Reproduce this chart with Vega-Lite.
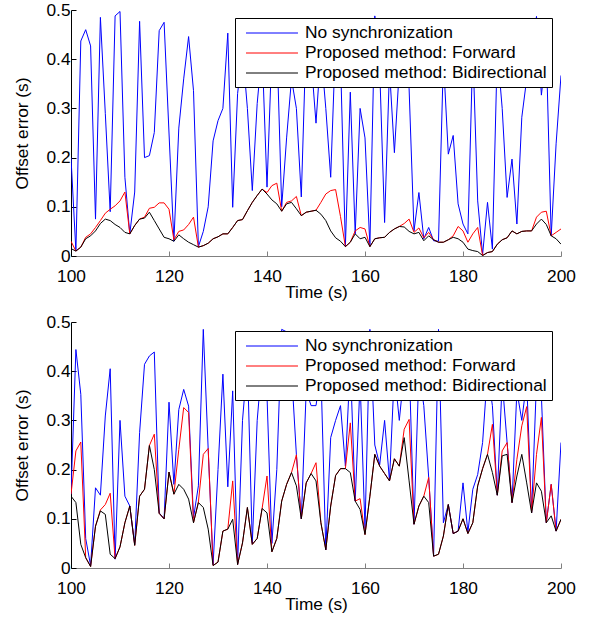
{
  "$schema": "https://vega.github.io/schema/vega-lite/v6.json",
  "padding": {"left": 13, "top": 1, "right": 5, "bottom": 0},
  "background": "white",
  "config": {
    "font": "Liberation Sans",
    "view": {"stroke": null},
    "axis": {
      "labelFont": "Liberation Sans", "labelFontSize": 17.3, "labelColor": "#000",
      "titleFont": "Liberation Sans", "titleFontSize": 17.3, "titleFontWeight": "normal", "titleColor": "#000",
      "tickColor": "#000", "domainColor": "#000", "tickSize": -5, "grid": false,
      "labelFlush": false, "labelOverlap": false
    },
    "axisX": {"domainColor": "#808080", "tickColor": "#808080", "labelPadding": 16, "titlePadding": -1},
    "axisY": {"labelPadding": 6, "titlePadding": 14},
    "legend": {
      "labelFont": "Liberation Sans", "labelFontSize": 17.4, "labelColor": "#000", "labelLimit": 0,
      "strokeColor": "#000", "fillColor": "white", "padding": 5, "rowPadding": 1,
      "symbolType": "M-0.42,0L5.05,0", "symbolSize": 361, "symbolStrokeWidth": 1, "labelOffset": 45
    }
  },
  "datasets": {
    "top": [
      {"t":100,"none":0.2,"fwd":0.03,"bi":0.015},
      {"t":101,"none":0.01,"fwd":0.01,"bi":0.01},
      {"t":102,"none":0.437,"fwd":0.018,"bi":0.018},
      {"t":103,"none":0.46,"fwd":0.038,"bi":0.035},
      {"t":104,"none":0.427,"fwd":0.045,"bi":0.041},
      {"t":105,"none":0.075,"fwd":0.058,"bi":0.051},
      {"t":106,"none":0.485,"fwd":0.072,"bi":0.066},
      {"t":107,"none":0.29,"fwd":0.087,"bi":0.075},
      {"t":108,"none":0.09,"fwd":0.095,"bi":0.072},
      {"t":109,"none":0.488,"fwd":0.102,"bi":0.064},
      {"t":110,"none":0.497,"fwd":0.112,"bi":0.058},
      {"t":111,"none":0.16,"fwd":0.13,"bi":0.048},
      {"t":112,"none":0.045,"fwd":0.045,"bi":0.045},
      {"t":113,"none":0.13,"fwd":0.062,"bi":0.062},
      {"t":114,"none":0.477,"fwd":0.075,"bi":0.075},
      {"t":115,"none":0.2,"fwd":0.079,"bi":0.077},
      {"t":116,"none":0.204,"fwd":0.097,"bi":0.089},
      {"t":117,"none":0.251,"fwd":0.099,"bi":0.072},
      {"t":118,"none":0.458,"fwd":0.108,"bi":0.055},
      {"t":119,"none":0.475,"fwd":0.108,"bi":0.038},
      {"t":120,"none":0.25,"fwd":0.095,"bi":0.035},
      {"t":121,"none":0.03,"fwd":0.033,"bi":0.03},
      {"t":122,"none":0.26,"fwd":0.05,"bi":0.043},
      {"t":123,"none":0.36,"fwd":0.053,"bi":0.035},
      {"t":124,"none":0.446,"fwd":0.064,"bi":0.028},
      {"t":125,"none":0.336,"fwd":0.079,"bi":0.023},
      {"t":126,"none":0.019,"fwd":0.018,"bi":0.018},
      {"t":127,"none":0.05,"fwd":0.021,"bi":0.021},
      {"t":128,"none":0.1,"fwd":0.026,"bi":0.026},
      {"t":129,"none":0.234,"fwd":0.035,"bi":0.035},
      {"t":130,"none":0.275,"fwd":0.039,"bi":0.039},
      {"t":131,"none":0.3,"fwd":0.045,"bi":0.045},
      {"t":132,"none":0.453,"fwd":0.045,"bi":0.045},
      {"t":133,"none":0.099,"fwd":0.058,"bi":0.058},
      {"t":134,"none":0.33,"fwd":0.072,"bi":0.072},
      {"t":135,"none":0.42,"fwd":0.074,"bi":0.074},
      {"t":136,"none":0.3,"fwd":0.092,"bi":0.092},
      {"t":137,"none":0.133,"fwd":0.109,"bi":0.109},
      {"t":138,"none":0.31,"fwd":0.123,"bi":0.123},
      {"t":139,"none":0.42,"fwd":0.136,"bi":0.136},
      {"t":140,"none":0.14,"fwd":0.129,"bi":0.126},
      {"t":141,"none":0.42,"fwd":0.143,"bi":0.114},
      {"t":142,"none":0.44,"fwd":0.148,"bi":0.106},
      {"t":143,"none":0.1,"fwd":0.091,"bi":0.091},
      {"t":144,"none":0.24,"fwd":0.109,"bi":0.106},
      {"t":145,"none":0.36,"fwd":0.112,"bi":0.109},
      {"t":146,"none":0.3,"fwd":0.121,"bi":0.096},
      {"t":147,"none":0.12,"fwd":0.082,"bi":0.082},
      {"t":148,"none":0.45,"fwd":0.089,"bi":0.089},
      {"t":149,"none":0.4,"fwd":0.091,"bi":0.091},
      {"t":150,"none":0.27,"fwd":0.093,"bi":0.093},
      {"t":151,"none":0.42,"fwd":0.109,"bi":0.085},
      {"t":152,"none":0.3,"fwd":0.126,"bi":0.072},
      {"t":153,"none":0.16,"fwd":0.133,"bi":0.051},
      {"t":154,"none":0.44,"fwd":0.135,"bi":0.037},
      {"t":155,"none":0.4,"fwd":0.08,"bi":0.03},
      {"t":156,"none":0.02,"fwd":0.019,"bi":0.019},
      {"t":157,"none":0.333,"fwd":0.028,"bi":0.028},
      {"t":158,"none":0.045,"fwd":0.051,"bi":0.045},
      {"t":159,"none":0.3,"fwd":0.058,"bi":0.035},
      {"t":160,"none":0.24,"fwd":0.055,"bi":0.038},
      {"t":161,"none":0.02,"fwd":0.019,"bi":0.019},
      {"t":162,"none":0.488,"fwd":0.035,"bi":0.035},
      {"t":163,"none":0.38,"fwd":0.037,"bi":0.037},
      {"t":164,"none":0.068,"fwd":0.038,"bi":0.038},
      {"t":165,"none":0.38,"fwd":0.048,"bi":0.048},
      {"t":166,"none":0.21,"fwd":0.055,"bi":0.055},
      {"t":167,"none":0.38,"fwd":0.06,"bi":0.06},
      {"t":168,"none":0.42,"fwd":0.066,"bi":0.059},
      {"t":169,"none":0.34,"fwd":0.075,"bi":0.05},
      {"t":170,"none":0.051,"fwd":0.048,"bi":0.045},
      {"t":171,"none":0.129,"fwd":0.057,"bi":0.048},
      {"t":172,"none":0.035,"fwd":0.037,"bi":0.031},
      {"t":173,"none":0.058,"fwd":0.048,"bi":0.041},
      {"t":174,"none":0.031,"fwd":0.033,"bi":0.033},
      {"t":175,"none":0.03,"fwd":0.028,"bi":0.028},
      {"t":176,"none":0.4,"fwd":0.028,"bi":0.028},
      {"t":177,"none":0.207,"fwd":0.033,"bi":0.033},
      {"t":178,"none":0.245,"fwd":0.041,"bi":0.038},
      {"t":179,"none":0.106,"fwd":0.06,"bi":0.035},
      {"t":180,"none":0.065,"fwd":0.051,"bi":0.028},
      {"t":181,"none":0.045,"fwd":0.028,"bi":0.014},
      {"t":182,"none":0.42,"fwd":0.045,"bi":0.011},
      {"t":183,"none":0.112,"fwd":0.058,"bi":0.009},
      {"t":184,"none":0.003,"fwd":0.001,"bi":0.001},
      {"t":185,"none":0.109,"fwd":0.007,"bi":0.007},
      {"t":186,"none":0.014,"fwd":0.009,"bi":0.009},
      {"t":187,"none":0.42,"fwd":0.024,"bi":0.024},
      {"t":188,"none":0.3,"fwd":0.033,"bi":0.033},
      {"t":189,"none":0.119,"fwd":0.037,"bi":0.037},
      {"t":190,"none":0.197,"fwd":0.051,"bi":0.051},
      {"t":191,"none":0.065,"fwd":0.045,"bi":0.045},
      {"t":192,"none":0.282,"fwd":0.05,"bi":0.05},
      {"t":193,"none":0.36,"fwd":0.051,"bi":0.051},
      {"t":194,"none":0.42,"fwd":0.051,"bi":0.051},
      {"t":195,"none":0.487,"fwd":0.079,"bi":0.065},
      {"t":196,"none":0.327,"fwd":0.089,"bi":0.075},
      {"t":197,"none":0.42,"fwd":0.091,"bi":0.064},
      {"t":198,"none":0.041,"fwd":0.041,"bi":0.041},
      {"t":199,"none":0.228,"fwd":0.048,"bi":0.035},
      {"t":200,"none":0.367,"fwd":0.055,"bi":0.024}
    ],
    "bottom": [
      {"t":100,"none":0.15,"fwd":0.15,"bi":0.146},
      {"t":101,"none":0.444,"fwd":0.238,"bi":0.133},
      {"t":102,"none":0.353,"fwd":0.256,"bi":0.048},
      {"t":103,"none":0.06,"fwd":0.021,"bi":0.021},
      {"t":104,"none":0.005,"fwd":0.003,"bi":0.003},
      {"t":105,"none":0.163,"fwd":0.085,"bi":0.085},
      {"t":106,"none":0.148,"fwd":0.118,"bi":0.116},
      {"t":107,"none":0.309,"fwd":0.129,"bi":0.109},
      {"t":108,"none":0.405,"fwd":0.152,"bi":0.028},
      {"t":109,"none":0.018,"fwd":0.019,"bi":0.019},
      {"t":110,"none":0.3,"fwd":0.043,"bi":0.043},
      {"t":111,"none":0.146,"fwd":0.092,"bi":0.092},
      {"t":112,"none":0.126,"fwd":0.126,"bi":0.126},
      {"t":113,"none":0.048,"fwd":0.046,"bi":0.046},
      {"t":114,"none":0.275,"fwd":0.146,"bi":0.146},
      {"t":115,"none":0.414,"fwd":0.16,"bi":0.16},
      {"t":116,"none":0.431,"fwd":0.249,"bi":0.249},
      {"t":117,"none":0.439,"fwd":0.272,"bi":0.2},
      {"t":118,"none":0.112,"fwd":0.111,"bi":0.111},
      {"t":119,"none":0.1,"fwd":0.1,"bi":0.1},
      {"t":120,"none":0.337,"fwd":0.195,"bi":0.195},
      {"t":121,"none":0.17,"fwd":0.15,"bi":0.15},
      {"t":122,"none":0.322,"fwd":0.241,"bi":0.17},
      {"t":123,"none":0.363,"fwd":0.326,"bi":0.16},
      {"t":124,"none":0.329,"fwd":0.316,"bi":0.14},
      {"t":125,"none":0.102,"fwd":0.092,"bi":0.092},
      {"t":126,"none":0.167,"fwd":0.134,"bi":0.133},
      {"t":127,"none":0.485,"fwd":0.231,"bi":0.123},
      {"t":128,"none":0.241,"fwd":0.243,"bi":0.079},
      {"t":129,"none":0.007,"fwd":0.005,"bi":0.005},
      {"t":130,"none":0.2,"fwd":0.012,"bi":0.012},
      {"t":131,"none":0.394,"fwd":0.075,"bi":0.075},
      {"t":132,"none":0.165,"fwd":0.079,"bi":0.079},
      {"t":133,"none":0.36,"fwd":0.177,"bi":0.099},
      {"t":134,"none":0.007,"fwd":0.007,"bi":0.007},
      {"t":135,"none":0.3,"fwd":0.051,"bi":0.051},
      {"t":136,"none":0.42,"fwd":0.123,"bi":0.123},
      {"t":137,"none":0.05,"fwd":0.048,"bi":0.048},
      {"t":138,"none":0.3,"fwd":0.06,"bi":0.06},
      {"t":139,"none":0.42,"fwd":0.121,"bi":0.121},
      {"t":140,"none":0.35,"fwd":0.187,"bi":0.112},
      {"t":141,"none":0.05,"fwd":0.033,"bi":0.033},
      {"t":142,"none":0.2,"fwd":0.06,"bi":0.06},
      {"t":143,"none":0.485,"fwd":0.136,"bi":0.136},
      {"t":144,"none":0.48,"fwd":0.17,"bi":0.17},
      {"t":145,"none":0.4,"fwd":0.194,"bi":0.194},
      {"t":146,"none":0.23,"fwd":0.23,"bi":0.167},
      {"t":147,"none":0.1,"fwd":0.1,"bi":0.1},
      {"t":148,"none":0.36,"fwd":0.173,"bi":0.173},
      {"t":149,"none":0.33,"fwd":0.192,"bi":0.192},
      {"t":150,"none":0.33,"fwd":0.214,"bi":0.177},
      {"t":151,"none":0.4,"fwd":0.092,"bi":0.092},
      {"t":152,"none":0.037,"fwd":0.037,"bi":0.037},
      {"t":153,"none":0.265,"fwd":0.126,"bi":0.126},
      {"t":154,"none":0.3,"fwd":0.188,"bi":0.188},
      {"t":155,"none":0.33,"fwd":0.202,"bi":0.202},
      {"t":156,"none":0.207,"fwd":0.202,"bi":0.202},
      {"t":157,"none":0.42,"fwd":0.295,"bi":0.194},
      {"t":158,"none":0.136,"fwd":0.136,"bi":0.136},
      {"t":159,"none":0.38,"fwd":0.141,"bi":0.119},
      {"t":160,"none":0.08,"fwd":0.068,"bi":0.068},
      {"t":161,"none":0.485,"fwd":0.146,"bi":0.146},
      {"t":162,"none":0.25,"fwd":0.231,"bi":0.231},
      {"t":163,"none":0.21,"fwd":0.207,"bi":0.207},
      {"t":164,"none":0.3,"fwd":0.192,"bi":0.192},
      {"t":165,"none":0.177,"fwd":0.177,"bi":0.177},
      {"t":166,"none":0.4,"fwd":0.222,"bi":0.222},
      {"t":167,"none":0.3,"fwd":0.207,"bi":0.207},
      {"t":168,"none":0.4,"fwd":0.282,"bi":0.265},
      {"t":169,"none":0.42,"fwd":0.302,"bi":0.177},
      {"t":170,"none":0.089,"fwd":0.089,"bi":0.089},
      {"t":171,"none":0.4,"fwd":0.126,"bi":0.126},
      {"t":172,"none":0.33,"fwd":0.146,"bi":0.146},
      {"t":173,"none":0.184,"fwd":0.184,"bi":0.133},
      {"t":174,"none":0.024,"fwd":0.024,"bi":0.024},
      {"t":175,"none":0.485,"fwd":0.028,"bi":0.028},
      {"t":176,"none":0.092,"fwd":0.065,"bi":0.065},
      {"t":177,"none":0.129,"fwd":0.129,"bi":0.129},
      {"t":178,"none":0.07,"fwd":0.07,"bi":0.07},
      {"t":179,"none":0.075,"fwd":0.075,"bi":0.075},
      {"t":180,"none":0.173,"fwd":0.1,"bi":0.1},
      {"t":181,"none":0.073,"fwd":0.07,"bi":0.07},
      {"t":182,"none":0.16,"fwd":0.092,"bi":0.092},
      {"t":183,"none":0.19,"fwd":0.167,"bi":0.167},
      {"t":184,"none":0.255,"fwd":0.202,"bi":0.202},
      {"t":185,"none":0.4,"fwd":0.231,"bi":0.231},
      {"t":186,"none":0.33,"fwd":0.292,"bi":0.194},
      {"t":187,"none":0.148,"fwd":0.148,"bi":0.148},
      {"t":188,"none":0.38,"fwd":0.238,"bi":0.228},
      {"t":189,"none":0.255,"fwd":0.255,"bi":0.231},
      {"t":190,"none":0.133,"fwd":0.133,"bi":0.133},
      {"t":191,"none":0.36,"fwd":0.221,"bi":0.187},
      {"t":192,"none":0.3,"fwd":0.289,"bi":0.231},
      {"t":193,"none":0.38,"fwd":0.328,"bi":0.173},
      {"t":194,"none":0.112,"fwd":0.112,"bi":0.112},
      {"t":195,"none":0.38,"fwd":0.231,"bi":0.173},
      {"t":196,"none":0.35,"fwd":0.306,"bi":0.156},
      {"t":197,"none":0.092,"fwd":0.092,"bi":0.092},
      {"t":198,"none":0.17,"fwd":0.17,"bi":0.106},
      {"t":199,"none":0.075,"fwd":0.075,"bi":0.075},
      {"t":200,"none":0.255,"fwd":0.099,"bi":0.099}
    ]
  },
  "spacing": 12,
  "resolve": {"legend": {"color": "independent"}},
  "vconcat": [
    {
      "width": 490, "height": 246,
      "data": {"name": "top"},
      "transform": [{"fold": ["none", "fwd", "bi"], "as": ["series", "v"]}],
      "mark": {"type": "line", "strokeWidth": 1, "clip": true},
      "encoding": {
        "x": {"field": "t", "type": "quantitative", "scale": {"domain": [100, 200], "nice": false},
              "axis": {"values": [100, 120, 140, 160, 180, 200], "title": "Time (s)"}},
        "y": {"field": "v", "type": "quantitative", "scale": {"domain": [0, 0.5], "nice": false},
              "axis": {"values": [0, 0.1, 0.2, 0.3, 0.4, 0.5], "format": "~g", "title": "Offset error (s)"}},
        "color": {"field": "series", "type": "nominal",
                  "scale": {"domain": ["none", "fwd", "bi"], "range": ["#0000ff", "#ff0000", "#000000"]},
                  "legend": {"orient": "none", "legendX": 164, "legendY": 8, "title": null,
                             "labelExpr": "datum.label == 'none' ? 'No synchronization' : datum.label == 'fwd' ? 'Proposed method: Forward' : 'Proposed method: Bidirectional'"}}
      }
    },
    {
      "width": 490, "height": 246,
      "data": {"name": "bottom"},
      "transform": [{"fold": ["none", "fwd", "bi"], "as": ["series", "v"]}],
      "mark": {"type": "line", "strokeWidth": 1, "clip": true},
      "encoding": {
        "x": {"field": "t", "type": "quantitative", "scale": {"domain": [100, 200], "nice": false},
              "axis": {"values": [100, 120, 140, 160, 180, 200], "title": "Time (s)"}},
        "y": {"field": "v", "type": "quantitative", "scale": {"domain": [0, 0.5], "nice": false},
              "axis": {"values": [0, 0.1, 0.2, 0.3, 0.4, 0.5], "format": "~g", "title": "Offset error (s)"}},
        "color": {"field": "series", "type": "nominal",
                  "scale": {"domain": ["none", "fwd", "bi"], "range": ["#0000ff", "#ff0000", "#000000"]},
                  "legend": {"orient": "none", "legendX": 164, "legendY": 9, "title": null,
                             "labelExpr": "datum.label == 'none' ? 'No synchronization' : datum.label == 'fwd' ? 'Proposed method: Forward' : 'Proposed method: Bidirectional'"}}
      }
    }
  ]
}
